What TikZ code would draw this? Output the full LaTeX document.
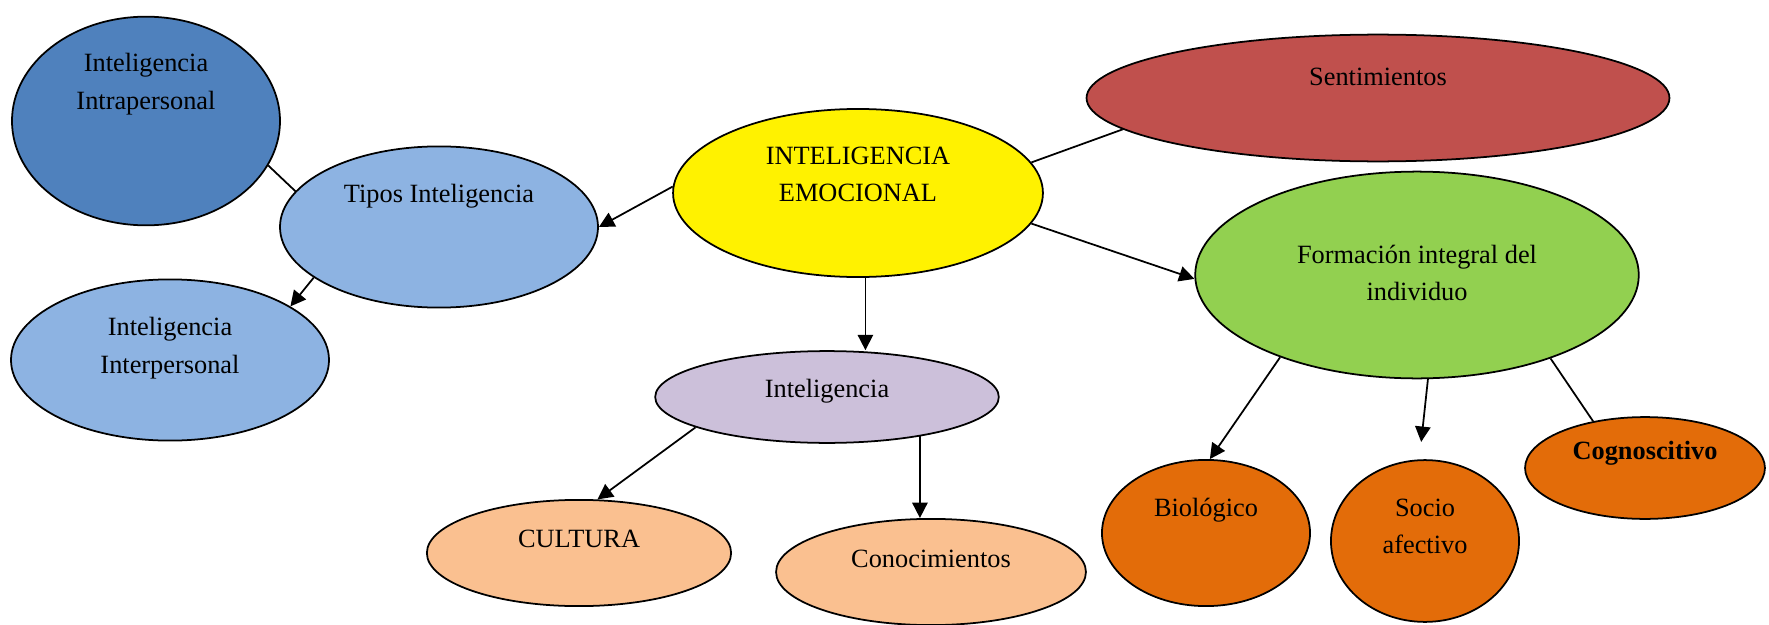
\documentclass[tikz,border=0pt]{standalone}
\usepackage{fontspec}
\setmainfont{Liberation Serif}
\usepackage{tikz}
\usetikzlibrary{shapes.geometric,arrows.meta}
\newcommand\tx[2]{\raisebox{#1}[0pt][0pt]{\begin{tabular}{@{}c@{}}#2\end{tabular}}}
\definecolor{azuloscuro}{HTML}{4F81BD}
\definecolor{azulclaro}{HTML}{8DB3E2}
\definecolor{rojo}{HTML}{C0504D}
\definecolor{verde}{HTML}{92D050}
\definecolor{lila}{HTML}{CCC0DA}
\definecolor{durazno}{HTML}{FAC090}
\definecolor{naranja}{HTML}{E36C09}
\tikzset{bubble/.style={ellipse, draw, thick, inner sep=0pt, font=\fontsize{12}{17}\selectfont},
  flecha/.style={thick, -{Triangle[length=7pt, width=7pt]}}}

\begin{document}
\begin{tikzpicture}[x=0.016cm, y=-0.016cm]
  \useasboundingbox (0,0) rectangle (1769,625);

  \node[bubble, fill=yellow, minimum width=5.92cm, minimum height=2.69cm]
    at (858, 193) (emo) {\tx{0.17cm}{INTELIGENCIA\\EMOCIONAL}};
  \node[bubble, fill=rojo, minimum width=9.33cm, minimum height=2.03cm]
    at (1378, 98) (sent) {\tx{0.22cm}{Sentimientos}};
  \node[bubble, fill=azulclaro, minimum width=5.09cm, minimum height=2.58cm]
    at (439, 227) (tipos) {\tx{0.40cm}{Tipos Inteligencia}};
  \node[bubble, fill=azuloscuro, minimum width=4.29cm, minimum height=3.34cm]
    at (146, 121) (intra) {\tx{0.50cm}{Inteligencia\\Intrapersonal}};
  \node[bubble, fill=azulclaro, minimum width=5.09cm, minimum height=2.58cm]
    at (170, 360) (inter) {\tx{0.10cm}{Inteligencia\\Interpersonal}};
  \node[bubble, fill=verde, minimum width=7.10cm, minimum height=3.31cm]
    at (1417, 275) (form) {\tx{-0.10cm}{Formación integral del\\individuo}};
  \node[bubble, fill=lila, minimum width=5.50cm, minimum height=1.47cm]
    at (827, 397) (intel) {\tx{0.0cm}{Inteligencia}};
  \node[bubble, fill=durazno, minimum width=4.87cm, minimum height=1.70cm]
    at (579, 553) (cult) {\tx{0.10cm}{CULTURA}};
  \node[bubble, fill=durazno, minimum width=4.96cm, minimum height=1.70cm]
    at (931, 572) (conoc) {\tx{0.08cm}{Conocimientos}};
  \node[bubble, fill=naranja, minimum width=3.33cm, minimum height=2.34cm]
    at (1206, 533) (bio) {\tx{0.28cm}{Biológico}};
  \node[bubble, fill=naranja, minimum width=3.01cm, minimum height=2.59cm]
    at (1425, 541) (socio) {\tx{0.11cm}{Socio\\afectivo}};
  \node[bubble, fill=naranja, minimum width=3.84cm, minimum height=1.63cm]
    at (1645, 468) (cogn) {\tx{0.15cm}{\textbf{Cognoscitivo}}};

  % conectores
  \draw[flecha] (emo.178) -- (tipos.east);
  \draw[thick] (intra.-20) -- (tipos.166);
  \draw[flecha] (tipos.202) -- (inter.24);
  \draw[thick] (emo.10) -- (sent.187);
  \draw[flecha] (emo.-10) -- (form.181);
  \draw[flecha] (emo.-85) -- (emo.-85 |- intel.north);
  \draw[flecha] (intel.193) -- (cult.71);
  \draw[flecha] (intel.-23) -- (intel.-23 |- conoc.north);
  \draw[flecha] (form.211) -- (bio.87);
  \draw[flecha, shorten >=8pt] (form.-84) -- (socio.94);
  \draw[thick] (form.-32) -- (cogn.138);
\end{tikzpicture}
\end{document}
